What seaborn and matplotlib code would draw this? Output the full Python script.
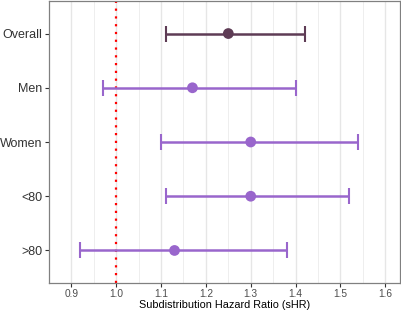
import matplotlib
matplotlib.use("Agg")
import matplotlib.pyplot as plt
import seaborn as sns
import pandas as pd
import numpy as np

groups = ["Overall", "Men", "Women", "<80", ">80"]
shr = [1.25, 1.17, 1.30, 1.30, 1.13]
ci_low = [1.11, 0.97, 1.10, 1.11, 0.92]
ci_high = [1.42, 1.40, 1.54, 1.52, 1.38]
colors = ["#5E3C55", "#9966CC", "#9966CC", "#9966CC", "#9966CC"]
xticks = [0.9, 1.0, 1.1, 1.2, 1.3, 1.4, 1.5, 1.6]

sns.set_theme(style="white")
plt.rcParams['font.family'] = ['Liberation Sans', 'DejaVu Sans']

df = pd.DataFrame({"group": groups, "shr": shr, "lo": ci_low, "hi": ci_high, "color": colors})

fig = plt.figure(figsize=(4.02, 3.11), dpi=100)
ax = fig.add_axes([49/402, 28/311, 351/402, 282/311])

ypos = np.arange(len(groups))
for i, row in df.iterrows():
    ax.errorbar(row.shr, i, xerr=[[row.shr - row.lo], [row.hi - row.shr]],
                fmt='none', ecolor=row.color, elinewidth=1.8, capsize=5.5, capthick=1.5, zorder=3)
sns.scatterplot(data=df.assign(y=ypos), x="shr", y="y", hue="group",
                palette=dict(zip(groups, colors)), s=60, edgecolor="none",
                legend=False, ax=ax, zorder=4)

ax.axvline(1.0, color="#FF0000", linestyle=(0, (1, 2.5)), linewidth=1.6, zorder=2)

ax.set_xlim(0.865, 1.633)
ax.set_ylim(len(groups) - 1 + 0.6, -0.6)
ax.set_yticks(ypos)
ax.set_yticklabels(groups, fontsize=9, color="#333333")
ax.set_xticks(xticks)
ax.set_xticklabels([f"{t:.1f}" for t in xticks], fontsize=7.3, color="#4D4D4D")
ax.set_xticks(np.arange(0.85, 1.65, 0.05), minor=True)
ax.grid(True, axis="x", which="major", color="#E6E6E6", linewidth=1.0, zorder=0)
ax.grid(True, axis="x", which="minor", color="#EEEEEE", linewidth=0.7, zorder=0)
ax.grid(False, axis="y")
ax.set_axisbelow(True)
ax.tick_params(axis="both", which="major", length=3, width=0.8, color="#333333", pad=1.5,
               left=True, bottom=True)
ax.tick_params(axis="x", which="minor", length=0)
ax.set_xlabel("Subdistribution Hazard Ratio (sHR)", fontsize=7.8, color="black", labelpad=0.5)
ax.set_ylabel("")
for s in ax.spines.values():
    s.set_color("#808080")
    s.set_linewidth(0.9)

fig.savefig("out.png", dpi=100)
